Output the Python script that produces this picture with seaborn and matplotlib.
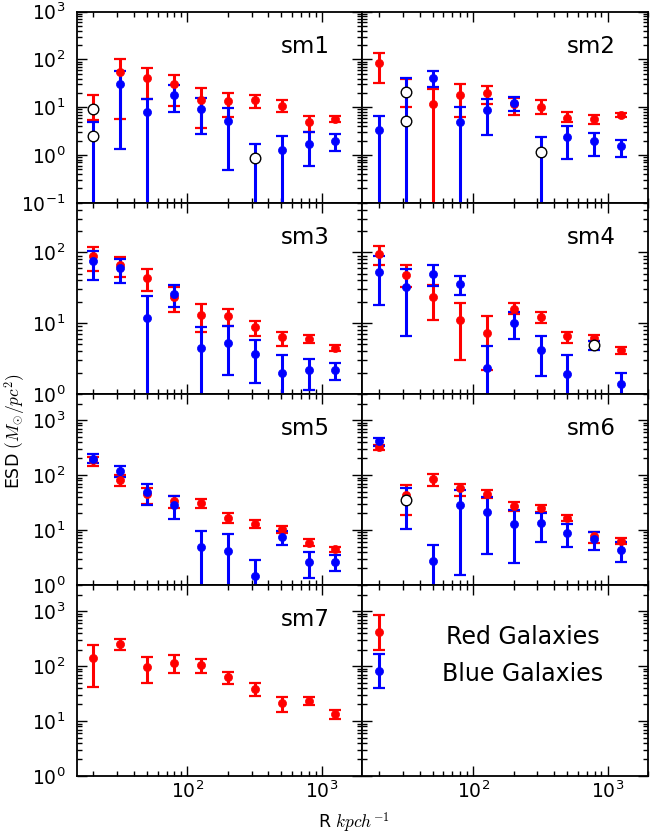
import matplotlib
matplotlib.use("Agg")
import matplotlib.pyplot as plt
import matplotlib.ticker as mticker
import numpy as np
import pandas as pd
import seaborn as sns

# projected radius bins (kpc/h)
R = [20, 31.7, 50.2, 79.6, 126.2, 200, 317, 502, 796, 1262]

# ESD measurements: value, lower bound, upper bound (M_sun / pc^2)
sm1_red = [9.4, 54, 40.6, 30, 14.5, 13.4, 14.5, 10.8, 5.0, 5.7]
sm1_red_lo = [5.5, 5.7, 15.2, 10.8, 3.7, 6.4, 9.7, 8.1, 3.0, 4.8]
sm1_red_hi = [18.5, 100, 66.8, 47.7, 25, 20.3, 18.5, 14, 6.7, 6.7]
sm1_blue = [2.5, 30, 7.85, 18.2, 9.4, 5.1, 0.85, 1.25, 1.73, 2.0]
sm1_blue_lo = [0.01, 1.34, 0.01, 7.85, 2.8, 0.49, 0.01, 0.01, 0.58, 1.19]
sm1_blue_hi = [5.0, 58.8, 15.2, 29, 15.6, 9.7, 1.7, 2.55, 3.0, 2.7]

sm2_red = [84, 21, 11.9, 18.5, 20, 11.9, 10.2, 6.0, 5.7, 7.0]
sm2_red_lo = [32.4, 10, 0.01, 6.2, 11.9, 7.0, 7.2, 4.8, 4.5, 6.2]
sm2_red_hi = [138, 40, 24.2, 30.4, 27.6, 15.6, 14, 7.9, 6.8, 7.6]
sm2_blue = [3.3, 5.1, 41.9, 4.9, 8.8, 12, 1.17, 2.4, 1.93, 1.52]
sm2_blue_lo = [0.01, 0.01, 26.3, 0.01, 2.6, 8.2, 0.01, 0.82, 0.94, 0.9]
sm2_blue_hi = [6.5, 41, 57, 10, 15, 16.4, 2.4, 4.0, 2.9, 2.1]

sm3_red = [87.8, 66, 42.9, 23.3, 13.1, 12.4, 8.7, 6.3, 6.0, 4.4]
sm3_red_lo = [54.4, 44.8, 28, 14.2, 7.6, 9.0, 6.6, 4.8, 5.3, 4.0]
sm3_red_hi = [120, 87, 57.5, 32.3, 18.8, 15.8, 10.8, 7.6, 6.8, 4.9]
sm3_blue = [74.6, 60, 11.9, 25.4, 4.4, 5.3, 3.6, 2.0, 2.14, 2.18]
sm3_blue_lo = [40.2, 36.4, 0.1, 16.7, 0.1, 1.86, 1.41, 0.9, 1.13, 1.58]
sm3_blue_hi = [105, 80.5, 23.8, 34.1, 8.7, 9.0, 5.8, 3.5, 3.1, 2.7]

sm4_red = [94.7, 47.8, 23.1, 11, 7.2, 16, 12.2, 6.5, 6.2, 4.1]
sm4_red_lo = [67, 32.3, 11, 3.0, 2.19, 13.4, 10.1, 5.2, 5.6, 3.65]
sm4_red_hi = [121, 65.5, 34.5, 19, 12.4, 19, 14.2, 7.5, 6.8, 4.6]
sm4_blue = [52.7, 32.3, 50, 36, 2.3, 10, 4.2, 1.92, 4.9, 1.39]
sm4_blue_lo = [17.8, 6.5, 33.8, 25, 0.1, 6.0, 1.8, 0.1, 4.1, 0.95]
sm4_blue_hi = [87.8, 58.6, 65.5, 46, 4.7, 14.2, 6.6, 3.5, 5.6, 2.0]

sm5_red = [185, 82, 45.8, 33, 30.5, 16.8, 12.9, 10.3, 5.9, 4.5]
sm5_red_lo = [148, 64, 30, 25.5, 24.8, 13.2, 11, 8.9, 5.1, 3.9]
sm5_red_hi = [209, 100, 58, 42, 36.6, 20, 15, 11.6, 6.8, 5.0]
sm5_blue = [198, 120, 49.8, 29, 4.9, 4.2, 1.44, 7.6, 2.65, 2.65]
sm5_blue_lo = [165, 91, 29, 15.6, 0.1, 0.1, 0.1, 5.3, 1.34, 1.8]
sm5_blue_hi = [240, 146, 70, 42, 9.6, 8.3, 2.9, 9.6, 3.9, 3.45]

sm6_red = [323, 44, 84.6, 58, 45.8, 27, 25, 16.8, 7.8, 6.3]
sm6_red_lo = [282, 19, 64, 41, 37.7, 21.7, 21, 14.6, 5.9, 5.5]
sm6_red_hi = [355, 66, 104, 70, 54, 31.8, 29, 19, 9.3, 7.0]
sm6_blue = [409, 34.6, 2.7, 28, 21, 12.7, 13.2, 8.9, 6.8, 4.3]
sm6_blue_lo = [342, 10.3, 0.1, 1.5, 3.7, 2.5, 6.1, 4.8, 4.4, 2.6]
sm6_blue_hi = [481, 58, 5.3, 54, 39, 23, 20, 13, 9.3, 6.0]

sm7_red = [142, 255, 97, 115, 106, 63, 37.6, 21.5, 23.1, 13.2]
sm7_red_lo = [41.5, 200, 50, 73.5, 75.6, 46.4, 28, 14.6, 19.3, 10.7]
sm7_red_hi = [237, 306, 146, 156, 132, 77, 48.3, 27.7, 26.9, 15.8]

# bins whose measured signal is negative (shown as |ESD| with open symbols)
sm1_red_neg = [0]
sm1_blue_neg = [0, 6]
sm2_red_neg = [1]
sm2_blue_neg = [1, 6]
sm4_blue_neg = [8]
sm6_blue_neg = [1]

# key panel samples
key_R = [20]
key_red, key_red_lo, key_red_hi = [415], [195], [845]
key_blue, key_blue_lo, key_blue_hi = [81], [40], [165]

labels = ["sm1", "sm2", "sm3", "sm4", "sm5", "sm6", "sm7"]
red_sets = [
    (sm1_red, sm1_red_lo, sm1_red_hi, sm1_red_neg),
    (sm2_red, sm2_red_lo, sm2_red_hi, sm2_red_neg),
    (sm3_red, sm3_red_lo, sm3_red_hi, []),
    (sm4_red, sm4_red_lo, sm4_red_hi, []),
    (sm5_red, sm5_red_lo, sm5_red_hi, []),
    (sm6_red, sm6_red_lo, sm6_red_hi, []),
    (sm7_red, sm7_red_lo, sm7_red_hi, []),
]
blue_sets = [
    (sm1_blue, sm1_blue_lo, sm1_blue_hi, sm1_blue_neg),
    (sm2_blue, sm2_blue_lo, sm2_blue_hi, sm2_blue_neg),
    (sm3_blue, sm3_blue_lo, sm3_blue_hi, []),
    (sm4_blue, sm4_blue_lo, sm4_blue_hi, sm4_blue_neg),
    (sm5_blue, sm5_blue_lo, sm5_blue_hi, []),
    (sm6_blue, sm6_blue_lo, sm6_blue_hi, sm6_blue_neg),
    None,
]
row_ylim = [(0.1, 1000), (1, 500), (1, 3000), (1, 3000)]

sns.set_style("ticks")
plt.rcParams["font.family"] = ["DejaVu Sans"]
plt.rcParams["mathtext.fontset"] = "cm"
plt.rcParams["text.color"] = "black"
plt.rcParams["xtick.color"] = "black"
plt.rcParams["ytick.color"] = "black"
plt.rcParams["xtick.labelcolor"] = "black"
plt.rcParams["ytick.labelcolor"] = "black"

fig, axes = plt.subplots(4, 2, figsize=(6.5, 8.38), dpi=100, sharex=True)
fig.subplots_adjust(left=0.118, right=0.997, top=0.986, bottom=0.074,
                    hspace=0, wspace=0)


def draw_sample(ax, x, val, lo, hi, neg, color):
    x = np.asarray(x, float)
    val = np.asarray(val, float)
    lo = np.asarray(lo, float)
    hi = np.asarray(hi, float)
    ax.errorbar(x, val, yerr=[val - lo, hi - val], fmt="none", ecolor=color,
                elinewidth=2.2, capsize=4, capthick=1.6, zorder=3)
    filled = [i for i in range(len(x)) if i not in neg]
    df = pd.DataFrame({"R": x[filled], "ESD": val[filled]})
    sns.scatterplot(data=df, x="R", y="ESD", color=color, edgecolor=color,
                    s=34, linewidth=0.5, ax=ax, zorder=4, legend=False)
    if neg:
        dn = pd.DataFrame({"R": x[neg], "ESD": val[neg]})
        sns.scatterplot(data=dn, x="R", y="ESD", color="white",
                        edgecolor="black", s=58, linewidth=1.0, ax=ax,
                        zorder=6, legend=False)


for k in range(8):
    row, col = divmod(k, 2)
    ax = axes[row, col]
    ax.set_xscale("log")
    ax.set_yscale("log")
    if k < 7:
        r = red_sets[k]
        draw_sample(ax, R, r[0], r[1], r[2], r[3], "red")
        b = blue_sets[k]
        if b is not None:
            draw_sample(ax, R, b[0], b[1], b[2], b[3], "blue")
        ax.text(0.80, 0.82, labels[k], transform=ax.transAxes, fontsize=16.5,
                ha="center", va="center")
    else:
        draw_sample(ax, key_R, key_red, key_red_lo, key_red_hi, [], "red")
        draw_sample(ax, key_R, key_blue, key_blue_lo, key_blue_hi, [], "blue")
        ax.text(0.56, 0.73, "Red Galaxies", transform=ax.transAxes,
                fontsize=17, ha="center", va="center")
        ax.text(0.56, 0.535, "Blue Galaxies", transform=ax.transAxes,
                fontsize=17, ha="center", va="center")

    ax.set_xlim(15, 2000)
    ax.set_ylim(*row_ylim[row])
    ax.set_xlabel("")
    ax.set_ylabel("")
    ax.yaxis.set_major_locator(mticker.LogLocator(base=10, numticks=10))
    ax.yaxis.set_minor_locator(mticker.LogLocator(base=10, subs=np.arange(2, 10),
                                                  numticks=20))
    ax.yaxis.set_minor_formatter(mticker.NullFormatter())
    ax.tick_params(which="both", direction="in", top=True, right=True,
                   labelsize=13.5, width=1.0, color="black", labelcolor="black")
    ax.tick_params(which="major", length=7)
    ax.tick_params(which="minor", length=3.5)
    ax.tick_params(axis="y", which="major", pad=8)
    for sp in ax.spines.values():
        sp.set_linewidth(1.3)
        sp.set_color("black")
    if col == 1:
        ax.tick_params(labelleft=False)
    if row < 3:
        ax.tick_params(labelbottom=False)

fig.text(0.023, 0.485, r"ESD $(M_{\odot}/pc^2)$", rotation=90,
         ha="center", va="center", fontsize=12.5)
fig.text(0.545, 0.018, r"R $kpch^{-1}$", ha="center", va="center",
         fontsize=12.5)

fig.savefig("out.png", dpi=100)
